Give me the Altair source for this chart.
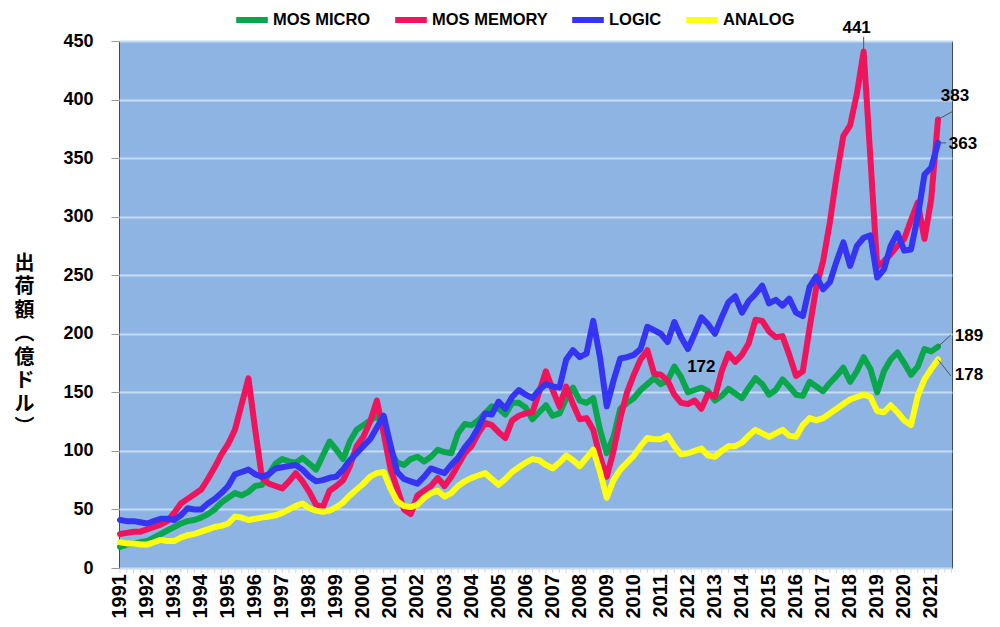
import altair as alt
import pandas as pd

series_names = ["MOS MICRO", "MOS MEMORY", "LOGIC", "ANALOG"]
series_colors = ["#0AA64C", "#F0145C", "#3434F2", "#FFFF10"]

# quarterly values, 1991Q1 .. 2021Q2 (100 million USD)
mos_micro = [
    18, 20, 21, 22, 23, 26, 29, 32, 35, 38,
    40, 41, 43, 46, 50, 56, 60, 64, 62, 65,
    70, 71, 80, 89, 93, 91, 90, 94, 89, 84,
    96, 108, 101, 93, 108, 118, 122, 126, 130, 120,
    100, 90, 88, 93, 95, 91, 95, 101, 99, 98,
    115, 123, 122, 126, 132, 138, 136, 131, 141, 141,
    137, 127, 133, 139, 130, 132, 145, 154, 143, 141,
    145, 118, 98, 112, 136, 141, 145, 152, 157, 162,
    157, 160, 172, 163, 150, 152, 154, 151, 143, 147,
    153, 149, 145, 154, 162, 157, 148, 152, 161, 155,
    148, 147, 159, 155, 151, 158, 164, 171, 159, 168,
    180, 170, 150, 168, 178, 184, 175, 165, 172, 187,
    185, 189,
]
mos_memory = [
    29, 30, 31, 31, 33, 35, 37, 40, 47, 55,
    59, 63, 67, 76, 86, 97, 106, 118, 140, 162,
    118, 77, 72, 70, 68, 74, 81, 74, 65, 54,
    52, 66, 70, 75, 87, 104, 112, 125, 143, 115,
    85, 68, 50, 46, 62, 66, 70, 77, 70, 78,
    88, 98, 104, 115, 124, 122, 116, 111, 126, 130,
    132, 133, 150, 168, 152, 138, 155, 140, 127, 128,
    118, 95, 78, 100, 128, 150, 165, 178, 186, 166,
    165, 160, 148, 141, 140, 143, 136, 149, 146, 168,
    183, 176, 182, 192, 212, 211, 202, 197, 198, 182,
    164, 168, 205, 240, 262, 295, 335, 369, 378, 405,
    441, 350, 257, 262, 268, 275, 281, 297, 312, 281,
    315, 383,
]
logic = [
    41, 40, 40, 39, 38, 40, 42, 42, 41, 45,
    51, 50, 50, 55, 59, 64, 70, 80, 82, 84,
    80, 78, 80, 85, 86, 87, 88, 84, 78, 74,
    75, 77, 78, 84, 92, 98, 104, 110, 120, 130,
    105, 82, 76, 74, 72, 78, 85, 83, 81, 88,
    94, 103, 110, 120, 132, 131, 142, 136, 146, 152,
    148, 145, 152, 157, 155, 154, 178, 186, 180, 183,
    211, 180, 138, 160, 179, 180, 182, 187, 206, 203,
    200, 193, 210, 197, 187, 200, 214, 208, 200, 214,
    227, 232, 218, 228, 234, 241, 226, 229, 224, 230,
    218, 215, 240, 249, 238, 244, 262, 278, 258, 275,
    282, 284, 248, 255, 275, 286, 271, 272, 300, 336,
    342, 363,
]
analog = [
    22, 21, 21, 20, 20, 22, 24, 23, 23, 26,
    28, 29, 31, 33, 35, 36, 38, 44, 43, 41,
    42, 43, 44, 45, 47, 50, 53, 55, 51, 49,
    48, 49, 52, 56, 62, 67, 72, 78, 81, 82,
    68, 57, 53, 52, 54, 60, 64, 66, 61, 64,
    70, 74, 77, 79, 81, 76, 71, 76, 82, 86,
    90, 93, 92, 88, 85, 90, 96, 92, 87, 94,
    101, 82, 60, 75, 84, 90, 96, 104, 111, 110,
    110, 113, 104, 97, 98, 100, 102, 96, 95, 100,
    104, 104, 107, 113, 118, 115, 112, 115, 118, 113,
    112, 122, 128, 126, 128, 132, 136, 140, 144, 146,
    148, 146, 134, 133, 139, 133, 126, 122, 147, 161,
    170, 178,
]
first_year = 1991
y_ticks = [0, 50, 100, 150, 200, 250, 300, 350, 400, 450]

all_series = [mos_micro, mos_memory, logic, analog]
rows = []
for name, vals in zip(series_names, all_series):
    for i, v in enumerate(vals):
        rows.append({"q": i, "value": v, "series": name})
df = pd.DataFrame(rows)

n = len(mos_micro)
quarter_df = pd.DataFrame({"q": list(range(n + 2))})
year_q = list(range(0, n, 4))
year_df = pd.DataFrame({"q": year_q, "year": [str(first_year + k // 4) for k in year_q]})

SANS = "Liberation Sans, Arial, sans-serif"

x_enc = alt.X(
    "q:Q",
    scale=alt.Scale(domain=[-0.15, 123.07], nice=False, zero=False),
    axis=alt.Axis(title=None, labels=False, ticks=False, domain=False, grid=False),
)
y_enc = alt.Y(
    "value:Q",
    scale=alt.Scale(domain=[0, 450], nice=False),
    axis=alt.Axis(
        title=["出", "荷", "額", "︵", "億", "ド", "ル", "︶"],
        titleAngle=0,
        titleX=-95,
        titleY=212,
        titleAlign="center",
        titleBaseline="top",
        titleLineHeight=23.5,
        titleFont="Noto Sans CJK JP",
        titleFontSize=20,
        titleFontWeight="bold",
        titleColor="#000000",
        values=y_ticks,
        labelFont=SANS,
        labelFontSize=18,
        labelFontWeight="bold",
        labelColor="#000000",
        labelPadding=18,
        tickSize=8,
        tickColor="#9a9a9a",
        domain=False,
        grid=True,
        gridColor="#C6DCF4",
        gridWidth=2,
    ),
)
color_enc = alt.Color(
    "series:N",
    scale=alt.Scale(domain=series_names, range=series_colors),
    legend=alt.Legend(
        title=None,
        orient="none",
        direction="horizontal",
        legendX=114,
        legendY=-40,
        symbolType="stroke",
        symbolSize=1000,
        symbolStrokeWidth=6,
        labelFont=SANS,
        labelFontSize=16.5,
        labelFontWeight="bold",
        labelColor="#000000",
        labelOffset=2,
        columnPadding=12,
        padding=0,
    ),
)

layers = []

# small quarter ticks below the plot
layers.append(
    alt.Chart(quarter_df)
    .mark_tick(orient="vertical", size=4, thickness=1, color="#c9c9c9", yOffset=3)
    .encode(x=x_enc, y=alt.datum(0))
)

# year labels under the plot, rotated
layers.append(
    alt.Chart(year_df)
    .mark_text(angle=270, align="right", baseline="middle", dx=-6,
               font=SANS, fontSize=20, fontWeight="bold", color="#000000")
    .encode(x="q:Q", y=alt.datum(0), text="year:N")
)

for name in series_names:
    layers.append(
        alt.Chart(df)
        .transform_filter(alt.datum.series == name)
        .mark_line(strokeWidth=6, strokeJoin="round", strokeCap="round")
        .encode(x="q:Q", y=y_enc, color=color_enc)
    )

# annotations: (quarter index, value, label, dx, dy, leader end q, leader end value)
ann = [
    (110, mos_memory[110], "441", -7, -24, 110, 453.5),
    (n - 1, mos_memory[-1], "383", 17, -23, 123.2, 390),
    (n - 1, logic[-1], "363", 25, 1, 122.2, 363),
    (82, mos_micro[82], "172", 27, 0, None, None),
    (n - 1, mos_micro[-1], "189", 31, -11, 122.9, 199),
    (n - 1, analog[-1], "178", 31, 15, 122.9, 164),
]
for q, v, lab, dx, dy, q2, v2 in ann:
    d = pd.DataFrame({"q": [q], "value": [v], "label": [lab],
                      "q2": [q2 if q2 is not None else q],
                      "v2": [v2 if v2 is not None else v]})
    if q2 is not None:
        layers.append(
            alt.Chart(d).mark_rule(color="#555555", strokeWidth=1).encode(
                x="q:Q", y="value:Q", x2="q2:Q", y2="v2:Q"
            )
        )
    layers.append(
        alt.Chart(d)
        .mark_text(dx=dx, dy=dy, font=SANS, fontSize=17, fontWeight="bold",
                   color="#000000", align="center", baseline="middle")
        .encode(x="q:Q", y="value:Q", text="label:N")
    )

chart = (
    alt.layer(*layers)
    .properties(
        width=833,
        height=527,
        padding={"left": 111, "top": 33, "right": 40, "bottom": 51},
        autosize=alt.AutoSizeParams(type="none"),
        background="#ffffff",
    )
    .configure_view(fill="#8EB4E3", stroke="#3F4B5B", strokeWidth=1)
)

chart.save("out.html", embed_options={"renderer": "svg", "actions": False})
